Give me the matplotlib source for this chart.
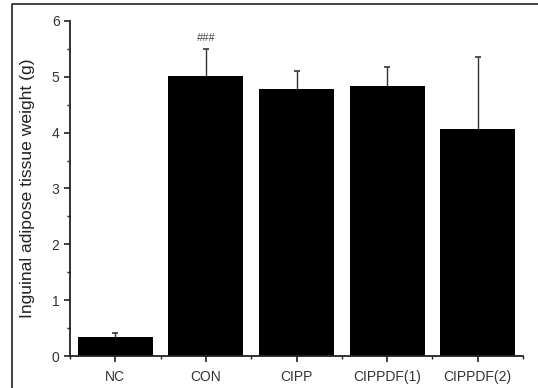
import matplotlib.pyplot as plt
from matplotlib.lines import Line2D
from matplotlib.ticker import MultipleLocator

plt.rcParams['font.family'] = ['Liberation Sans', 'DejaVu Sans']

groups = ['NC', 'CON', 'CIPP', 'CIPPDF(1)', 'CIPPDF(2)']
means = [0.34, 5.02, 4.78, 4.84, 4.07]
sd = [0.07, 0.48, 0.33, 0.34, 1.29]
marks = ['', '###', '', '', '']

fig = plt.figure(figsize=(5.38, 3.88), dpi=100)
ax = fig.add_axes([70/538, 1-356/388, 453/538, 335/388])

pos = list(range(len(groups)))
ax.bar(pos, means, width=0.83, color='black', zorder=2)
eb = ax.errorbar(pos, means, yerr=[[0]*len(sd), sd], fmt='none', ecolor='#333333',
                 elinewidth=1.0, capsize=2.5, capthick=1.2, zorder=1)
eb[1][0].set_visible(False)  # only the upper cap
for p, m, s, t in zip(pos, means, sd, marks):
    if t:
        ax.text(p, m + s + 0.2, t, ha='center', va='center', fontsize=8, color='#444444')

ax.set_xlim(-0.5, 4.5)
ax.set_ylim(0, 6)
ax.set_xticks(pos)
ax.set_xticklabels(groups)
ax.xaxis.set_minor_locator(MultipleLocator(1, offset=0.5))
ax.yaxis.set_major_locator(MultipleLocator(1))
ax.yaxis.set_minor_locator(MultipleLocator(0.5))
for s in ['top', 'right']:
    ax.spines[s].set_visible(False)
for s in ['left', 'bottom']:
    ax.spines[s].set_linewidth(1.3)
    ax.spines[s].set_color('#222222')
ax.tick_params(which='major', direction='out', length=4, width=1.2, color='#222222',
               labelsize=10, labelcolor='#333333')
ax.tick_params(which='minor', direction='out', length=2.5, width=1.0, color='#222222')
ax.tick_params(axis='x', pad=6)
ax.set_ylabel('Inguinal adipose tissue weight (g)', fontsize=12.6, color='#222222')
ax.yaxis.set_label_coords(-0.078, 0.5)

# outer frame lines (left and top)
fig.add_artist(Line2D([12/538, 12/538, 1], [0, 1-4/388, 1-4/388],
                      transform=fig.transFigure, color='#333333', lw=1.3))

fig.savefig('out.png', dpi=100)
